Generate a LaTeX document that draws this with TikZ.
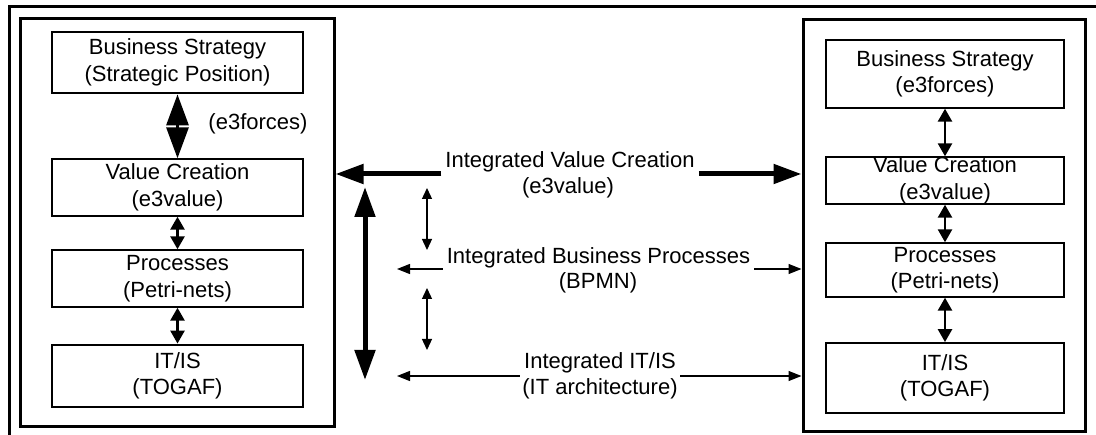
\documentclass[tikz,border=0pt]{standalone}
\usepackage{fontspec}
\setmainfont{Liberation Sans}
\usetikzlibrary{arrows.meta}
\tikzset{
  txt/.style={font=\fontsize{22}{26.5}\selectfont, align=center, inner sep=0pt},
  frame/.style={draw, line width=3pt, inner sep=0pt},
  thinbox/.style={draw, line width=1.4pt, inner sep=0pt, font=\fontsize{22}{26.5}\selectfont, align=center},
  thickbox/.style={thinbox, line width=2.8pt},
  bigdbl/.style={line width=3pt, {Triangle[length=31pt,width=22pt]}-{Triangle[length=31pt,width=22pt]}},
  middbl/.style={line width=2.6pt, {Triangle[length=13pt,width=14pt]}-{Triangle[length=13pt,width=14pt]}},
  heavy/.style={line width=5pt, -{Triangle[length=28pt,width=19pt]}},
  heavydbl/.style={line width=5pt, {Triangle[length=30pt,width=20pt]}-{Triangle[length=30pt,width=20pt]}},
  lightdbl/.style={line width=1.3pt, {Triangle[length=11pt,width=10pt]}-{Triangle[length=11pt,width=10pt]}},
  light/.style={line width=1.3pt, -{Triangle[length=13pt,width=10pt]}},
  lbl/.style={font=\fontsize{22}{26.5}\selectfont, inner xsep=4pt, inner ysep=0pt, anchor=base}
}
\begin{document}
\begin{tikzpicture}[x=1pt,y=-1pt]
\useasboundingbox[fill=white] (0,0) rectangle (1096,435);

% page frame (top and left rules)
\draw[line width=2.5pt] (9.5,435) -- (9.5,6.5) -- (1096,6.5);

% left stack
\node[frame, minimum width=314pt, minimum height=408pt] (L) at (177,223) {};
\node[thickbox, minimum width=251pt, minimum height=61pt] (lbs) at (177.5,62.5) {Business Strategy\\(Strategic Position)};
\node[thinbox, minimum width=251pt, minimum height=57pt] (lvc) at (177.5,187.5) {Value Creation\\(e3value)};
\node[thinbox, minimum width=251pt, minimum height=57pt] (lpr) at (177.5,278.5) {Processes\\(Petri-nets)};
\node[thickbox, minimum width=251pt, minimum height=62pt] (lit) at (177.5,376) {IT/IS\\(TOGAF)};
\node[txt] (lforces) at (258,124) {(e3forces)};

\draw[bigdbl] (lbs.south) -- (lvc.north);
\draw[middbl] (lvc.south) -- (lpr.north);
\draw[middbl] (lpr.south) -- (lit.north);

% right stack
\node[frame, minimum width=282pt, minimum height=412pt] (R) at (944,226) {};
\node[thinbox, minimum width=238pt, minimum height=68pt] (rbs) at (945,74) {Business Strategy\\(e3forces)};
\node[thinbox, minimum width=238pt, minimum height=47pt] (rvc) at (945,180.5) {Value Creation\\(e3value)};
\node[thinbox, minimum width=238pt, minimum height=54pt] (rpr) at (945,270) {Processes\\(Petri-nets)};
\node[thinbox, line width=1.8pt, minimum width=238pt, minimum height=70pt] (rit) at (945,378) {IT/IS\\(TOGAF)};

\draw[middbl] (rbs.south) -- (rvc.north);
\draw[middbl] (rvc.south) -- (rpr.north);
\draw[middbl] (rpr.south) -- (rit.north);

% integration layers between the stacks
\node[lbl] (ivc) at (570,167.5) {Integrated Value Creation};
\node[lbl] (ivcs) at (568,193.5) {(e3value)};
\node[lbl] (ibp) at (598.5,263.5) {Integrated Business Processes};
\node[lbl] (ibps) at (598,289) {(BPMN)};
\node[lbl] (iit) at (600,368.5) {Integrated IT/IS};
\node[lbl] (iits) at (600,395) {(IT architecture)};

\coordinate (yvc) at (0,174);
\coordinate (ybp) at (0,269);
\coordinate (yit) at (0,376);

\draw[heavy] (ivc.west |- yvc) -- (L.east |- yvc);
\draw[heavy] (ivc.east |- yvc) -- (R.west |- yvc);
\coordinate (lbpend) at (397,269);
\coordinate (litend) at (397,376);
\draw[light] (ibp.west |- ybp) -- (lbpend);
\draw[light] (ibp.east |- ybp) -- (R.west |- ybp);
\draw[light] (iit.west |- yit) -- (litend);
\draw[light] (iit.east |- yit) -- (R.west |- yit);

% vertical links between the layers
\coordinate (vtop) at (365,187);
\coordinate (vbot) at (365,380);
\draw[heavydbl] (vtop) -- (vbot);
\coordinate (a1) at (427,188);
\coordinate (a2) at (427,250);
\coordinate (b1) at (427,288);
\coordinate (b2) at (427,350);
\draw[lightdbl] (a1) -- (a2);
\draw[lightdbl] (b1) -- (b2);
\end{tikzpicture}
\end{document}
